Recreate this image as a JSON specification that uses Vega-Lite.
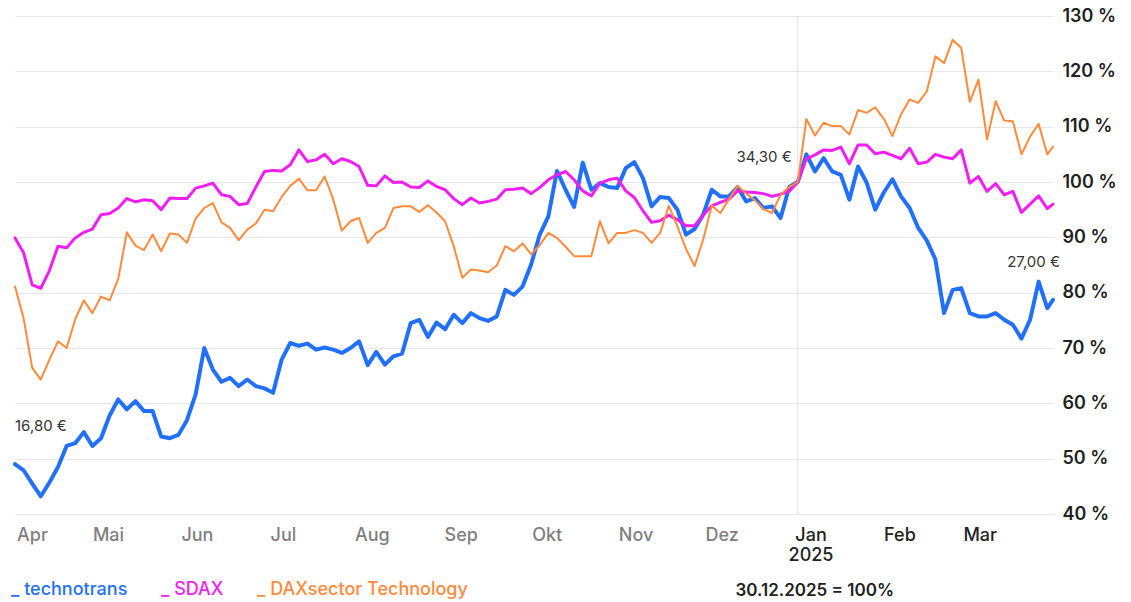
{
  "$schema": "https://vega.github.io/schema/vega-lite/v6.json",
  "width": 1038,
  "height": 498,
  "autosize": {"type": "none"},
  "padding": {"left": 15, "top": 16, "right": 78, "bottom": 88},
  "background": "white",
  "config": {"font": "Inter", "view": {"stroke": null}},
  "encoding": {
    "x": {
      "field": "date",
      "type": "temporal",
      "scale": {"type": "utc", "domain": [{"year": 2024, "month": 4, "date": 1, "utc": true}, {"year": 2025, "month": 3, "date": 29, "utc": true}]},
      "axis": {
        "title": "30.12.2025 = 100%",
        "titleX": 720,
        "titleY": 76,
        "titleAlign": "left",
        "titleBaseline": "middle",
        "titleFontSize": 17,
        "titleFontWeight": 600,
        "titleColor": "#222222",
        "tickCount": {"interval": "month", "step": 1},
        "labelExpr": "utcmonth(datum.value) == 0 ? ['Jan', '' + utcyear(datum.value)] : ['Jan','Feb','Mar','Apr','Mai','Jun','Jul','Aug','Sep','Okt','Nov','Dez'][utcmonth(datum.value)]",
        "labelFontSize": 18,
        "labelFontWeight": 500,
        "labelPadding": 12,
        "labelLineHeight": 20,
        "labelColor": {"condition": {"test": "utcyear(datum.value) >= 2025", "value": "#222222"}, "value": "#808080"},
        "labelOffset": {"condition": {"test": "utcyear(datum.value) == 2024 && utcmonth(datum.value) == 3", "value": 17}, "value": 7},
        "labelAlign": "center",
        "labelBaseline": "top",
        "labelOverlap": false,
        "labelFlush": false,
        "domain": false,
        "ticks": false,
        "grid": false
      }
    }
  },
  "layer": [
    {
      "data": {"values": [{"date": "2024-12-30"}]},
      "mark": {"type": "rule", "color": "#e2e2e2", "strokeWidth": 1},
      "encoding": {}
    },
    {
      "data": {"values": [
        {"date": "2024-04-01", "technotrans": 49.0, "SDAX": 89.9, "DAXsector Technology": 81.1},
        {"date": "2024-04-04", "technotrans": 47.9, "SDAX": 87.2, "DAXsector Technology": 75.4},
        {"date": "2024-04-07", "technotrans": 45.5, "SDAX": 81.4, "DAXsector Technology": 66.4},
        {"date": "2024-04-10", "technotrans": 43.2, "SDAX": 80.8, "DAXsector Technology": 64.3},
        {"date": "2024-04-13", "technotrans": 45.7, "SDAX": 84.0, "DAXsector Technology": 67.9},
        {"date": "2024-04-16", "technotrans": 48.5, "SDAX": 88.4, "DAXsector Technology": 71.2},
        {"date": "2024-04-19", "technotrans": 52.3, "SDAX": 88.1, "DAXsector Technology": 70.0},
        {"date": "2024-04-22", "technotrans": 52.8, "SDAX": 89.9, "DAXsector Technology": 75.2},
        {"date": "2024-04-25", "technotrans": 54.8, "SDAX": 90.9, "DAXsector Technology": 78.6},
        {"date": "2024-04-28", "technotrans": 52.3, "SDAX": 91.5, "DAXsector Technology": 76.3},
        {"date": "2024-05-01", "technotrans": 53.7, "SDAX": 94.1, "DAXsector Technology": 79.3},
        {"date": "2024-05-04", "technotrans": 57.8, "SDAX": 94.3, "DAXsector Technology": 78.6},
        {"date": "2024-05-07", "technotrans": 60.7, "SDAX": 95.3, "DAXsector Technology": 82.5},
        {"date": "2024-05-10", "technotrans": 58.9, "SDAX": 97.0, "DAXsector Technology": 90.9},
        {"date": "2024-05-13", "technotrans": 60.4, "SDAX": 96.4, "DAXsector Technology": 88.5},
        {"date": "2024-05-16", "technotrans": 58.6, "SDAX": 96.8, "DAXsector Technology": 87.7},
        {"date": "2024-05-19", "technotrans": 58.6, "SDAX": 96.6, "DAXsector Technology": 90.5},
        {"date": "2024-05-22", "technotrans": 54.0, "SDAX": 95.0, "DAXsector Technology": 87.5},
        {"date": "2024-05-25", "technotrans": 53.7, "SDAX": 97.1, "DAXsector Technology": 90.7},
        {"date": "2024-05-28", "technotrans": 54.3, "SDAX": 97.0, "DAXsector Technology": 90.5},
        {"date": "2024-05-31", "technotrans": 57.0, "SDAX": 97.0, "DAXsector Technology": 89.0},
        {"date": "2024-06-03", "technotrans": 61.6, "SDAX": 98.9, "DAXsector Technology": 93.4},
        {"date": "2024-06-06", "technotrans": 70.0, "SDAX": 99.3, "DAXsector Technology": 95.3},
        {"date": "2024-06-09", "technotrans": 66.1, "SDAX": 99.8, "DAXsector Technology": 96.2},
        {"date": "2024-06-12", "technotrans": 63.9, "SDAX": 97.7, "DAXsector Technology": 92.7},
        {"date": "2024-06-15", "technotrans": 64.6, "SDAX": 97.4, "DAXsector Technology": 91.7},
        {"date": "2024-06-18", "technotrans": 63.1, "SDAX": 95.9, "DAXsector Technology": 89.5},
        {"date": "2024-06-21", "technotrans": 64.3, "SDAX": 96.1, "DAXsector Technology": 91.4},
        {"date": "2024-06-24", "technotrans": 63.1, "SDAX": 99.1, "DAXsector Technology": 92.5},
        {"date": "2024-06-27", "technotrans": 62.7, "SDAX": 101.9, "DAXsector Technology": 95.0},
        {"date": "2024-06-30", "technotrans": 61.9, "SDAX": 102.1, "DAXsector Technology": 94.7},
        {"date": "2024-07-03", "technotrans": 67.9, "SDAX": 102.0, "DAXsector Technology": 97.3},
        {"date": "2024-07-06", "technotrans": 70.9, "SDAX": 103.1, "DAXsector Technology": 99.3},
        {"date": "2024-07-09", "technotrans": 70.4, "SDAX": 105.8, "DAXsector Technology": 100.6},
        {"date": "2024-07-12", "technotrans": 70.8, "SDAX": 103.7, "DAXsector Technology": 98.5},
        {"date": "2024-07-15", "technotrans": 69.7, "SDAX": 104.0, "DAXsector Technology": 98.5},
        {"date": "2024-07-18", "technotrans": 70.1, "SDAX": 105.0, "DAXsector Technology": 101.0},
        {"date": "2024-07-21", "technotrans": 69.7, "SDAX": 103.3, "DAXsector Technology": 96.8},
        {"date": "2024-07-24", "technotrans": 69.1, "SDAX": 104.2, "DAXsector Technology": 91.2},
        {"date": "2024-07-27", "technotrans": 70.0, "SDAX": 103.7, "DAXsector Technology": 92.9},
        {"date": "2024-07-30", "technotrans": 71.2, "SDAX": 102.8, "DAXsector Technology": 93.5},
        {"date": "2024-08-02", "technotrans": 66.9, "SDAX": 99.4, "DAXsector Technology": 89.0},
        {"date": "2024-08-05", "technotrans": 69.3, "SDAX": 99.3, "DAXsector Technology": 90.8},
        {"date": "2024-08-08", "technotrans": 67.0, "SDAX": 101.1, "DAXsector Technology": 91.7},
        {"date": "2024-08-11", "technotrans": 68.5, "SDAX": 99.9, "DAXsector Technology": 95.3},
        {"date": "2024-08-14", "technotrans": 69.0, "SDAX": 100.0, "DAXsector Technology": 95.6},
        {"date": "2024-08-17", "technotrans": 74.5, "SDAX": 99.1, "DAXsector Technology": 95.6},
        {"date": "2024-08-20", "technotrans": 75.1, "SDAX": 99.0, "DAXsector Technology": 94.6},
        {"date": "2024-08-23", "technotrans": 72.0, "SDAX": 100.2, "DAXsector Technology": 95.8},
        {"date": "2024-08-26", "technotrans": 74.6, "SDAX": 99.2, "DAXsector Technology": 94.5},
        {"date": "2024-08-29", "technotrans": 73.4, "SDAX": 98.6, "DAXsector Technology": 92.9},
        {"date": "2024-09-01", "technotrans": 76.0, "SDAX": 97.0, "DAXsector Technology": 88.4},
        {"date": "2024-09-04", "technotrans": 74.5, "SDAX": 95.9, "DAXsector Technology": 82.7},
        {"date": "2024-09-07", "technotrans": 76.3, "SDAX": 97.1, "DAXsector Technology": 84.2},
        {"date": "2024-09-10", "technotrans": 75.4, "SDAX": 96.2, "DAXsector Technology": 84.0},
        {"date": "2024-09-13", "technotrans": 74.9, "SDAX": 96.5, "DAXsector Technology": 83.7},
        {"date": "2024-09-16", "technotrans": 75.7, "SDAX": 96.9, "DAXsector Technology": 84.9},
        {"date": "2024-09-19", "technotrans": 80.5, "SDAX": 98.6, "DAXsector Technology": 88.4},
        {"date": "2024-09-22", "technotrans": 79.6, "SDAX": 98.7, "DAXsector Technology": 87.5},
        {"date": "2024-09-25", "technotrans": 81.1, "SDAX": 98.9, "DAXsector Technology": 88.9},
        {"date": "2024-09-28", "technotrans": 85.1, "SDAX": 97.9, "DAXsector Technology": 86.9},
        {"date": "2024-10-01", "technotrans": 90.5, "SDAX": 99.0, "DAXsector Technology": 88.6},
        {"date": "2024-10-04", "technotrans": 93.8, "SDAX": 100.4, "DAXsector Technology": 90.8},
        {"date": "2024-10-07", "technotrans": 102.0, "SDAX": 101.3, "DAXsector Technology": 89.9},
        {"date": "2024-10-10", "technotrans": 98.6, "SDAX": 101.9, "DAXsector Technology": 88.3},
        {"date": "2024-10-13", "technotrans": 95.5, "SDAX": 100.4, "DAXsector Technology": 86.6},
        {"date": "2024-10-16", "technotrans": 103.5, "SDAX": 98.4, "DAXsector Technology": 86.6},
        {"date": "2024-10-19", "technotrans": 98.6, "SDAX": 97.5, "DAXsector Technology": 86.6},
        {"date": "2024-10-22", "technotrans": 99.8, "SDAX": 99.8, "DAXsector Technology": 92.9},
        {"date": "2024-10-25", "technotrans": 99.1, "SDAX": 100.4, "DAXsector Technology": 88.9},
        {"date": "2024-10-28", "technotrans": 98.9, "SDAX": 100.7, "DAXsector Technology": 90.8},
        {"date": "2024-10-31", "technotrans": 102.5, "SDAX": 98.4, "DAXsector Technology": 90.8},
        {"date": "2024-11-03", "technotrans": 103.6, "SDAX": 97.2, "DAXsector Technology": 91.3},
        {"date": "2024-11-06", "technotrans": 100.7, "SDAX": 94.8, "DAXsector Technology": 90.8},
        {"date": "2024-11-09", "technotrans": 95.6, "SDAX": 92.7, "DAXsector Technology": 89.0},
        {"date": "2024-11-12", "technotrans": 97.3, "SDAX": 93.0, "DAXsector Technology": 90.8},
        {"date": "2024-11-15", "technotrans": 97.1, "SDAX": 94.0, "DAXsector Technology": 95.7},
        {"date": "2024-11-18", "technotrans": 95.0, "SDAX": 93.2, "DAXsector Technology": 92.0},
        {"date": "2024-11-21", "technotrans": 90.5, "SDAX": 92.1, "DAXsector Technology": 87.9},
        {"date": "2024-11-24", "technotrans": 91.5, "SDAX": 92.1, "DAXsector Technology": 84.8},
        {"date": "2024-11-27", "technotrans": 94.1, "SDAX": 94.0, "DAXsector Technology": 89.6},
        {"date": "2024-11-30", "technotrans": 98.6, "SDAX": 95.7, "DAXsector Technology": 95.7},
        {"date": "2024-12-03", "technotrans": 97.4, "SDAX": 96.3, "DAXsector Technology": 94.4},
        {"date": "2024-12-06", "technotrans": 97.4, "SDAX": 96.9, "DAXsector Technology": 96.9},
        {"date": "2024-12-09", "technotrans": 99.1, "SDAX": 98.4, "DAXsector Technology": 99.3},
        {"date": "2024-12-12", "technotrans": 96.5, "SDAX": 98.2, "DAXsector Technology": 97.9},
        {"date": "2024-12-15", "technotrans": 97.1, "SDAX": 98.1, "DAXsector Technology": 96.7},
        {"date": "2024-12-18", "technotrans": 95.3, "SDAX": 97.9, "DAXsector Technology": 95.1},
        {"date": "2024-12-21", "technotrans": 95.6, "SDAX": 97.4, "DAXsector Technology": 94.4},
        {"date": "2024-12-24", "technotrans": 93.5, "SDAX": 97.8, "DAXsector Technology": 97.7},
        {"date": "2024-12-27", "technotrans": 99.1, "SDAX": 98.3, "DAXsector Technology": 99.1},
        {"date": "2024-12-30", "technotrans": 100.0, "SDAX": 100.0, "DAXsector Technology": 100.0},
        {"date": "2025-01-02", "technotrans": 105.0, "SDAX": 104.2, "DAXsector Technology": 111.4},
        {"date": "2025-01-05", "technotrans": 101.9, "SDAX": 104.9, "DAXsector Technology": 108.4},
        {"date": "2025-01-08", "technotrans": 104.3, "SDAX": 105.8, "DAXsector Technology": 110.7},
        {"date": "2025-01-11", "technotrans": 101.9, "SDAX": 105.7, "DAXsector Technology": 110.1},
        {"date": "2025-01-14", "technotrans": 101.3, "SDAX": 106.3, "DAXsector Technology": 110.1},
        {"date": "2025-01-17", "technotrans": 96.8, "SDAX": 103.3, "DAXsector Technology": 108.6},
        {"date": "2025-01-20", "technotrans": 102.8, "SDAX": 106.7, "DAXsector Technology": 113.0},
        {"date": "2025-01-23", "technotrans": 99.9, "SDAX": 106.7, "DAXsector Technology": 112.5},
        {"date": "2025-01-26", "technotrans": 95.0, "SDAX": 105.1, "DAXsector Technology": 113.5},
        {"date": "2025-01-29", "technotrans": 98.1, "SDAX": 105.4, "DAXsector Technology": 111.4},
        {"date": "2025-02-01", "technotrans": 100.5, "SDAX": 104.8, "DAXsector Technology": 108.3},
        {"date": "2025-02-04", "technotrans": 97.4, "SDAX": 104.2, "DAXsector Technology": 112.2},
        {"date": "2025-02-07", "technotrans": 95.3, "SDAX": 106.1, "DAXsector Technology": 114.9},
        {"date": "2025-02-10", "technotrans": 91.7, "SDAX": 103.3, "DAXsector Technology": 114.3},
        {"date": "2025-02-13", "technotrans": 89.4, "SDAX": 103.6, "DAXsector Technology": 116.4},
        {"date": "2025-02-16", "technotrans": 86.0, "SDAX": 105.0, "DAXsector Technology": 122.7},
        {"date": "2025-02-19", "technotrans": 76.3, "SDAX": 104.5, "DAXsector Technology": 121.5},
        {"date": "2025-02-22", "technotrans": 80.5, "SDAX": 104.2, "DAXsector Technology": 125.7},
        {"date": "2025-02-25", "technotrans": 80.8, "SDAX": 105.8, "DAXsector Technology": 124.2},
        {"date": "2025-02-28", "technotrans": 76.3, "SDAX": 99.8, "DAXsector Technology": 114.5},
        {"date": "2025-03-03", "technotrans": 75.7, "SDAX": 101.0, "DAXsector Technology": 118.5},
        {"date": "2025-03-06", "technotrans": 75.7, "SDAX": 98.3, "DAXsector Technology": 107.7},
        {"date": "2025-03-09", "technotrans": 76.3, "SDAX": 99.7, "DAXsector Technology": 114.6},
        {"date": "2025-03-12", "technotrans": 75.1, "SDAX": 97.7, "DAXsector Technology": 111.1},
        {"date": "2025-03-15", "technotrans": 74.2, "SDAX": 98.3, "DAXsector Technology": 111.0},
        {"date": "2025-03-18", "technotrans": 71.7, "SDAX": 94.5, "DAXsector Technology": 105.0},
        {"date": "2025-03-21", "technotrans": 75.1, "SDAX": 96.0, "DAXsector Technology": 108.2},
        {"date": "2025-03-24", "technotrans": 82.0, "SDAX": 97.5, "DAXsector Technology": 110.5},
        {"date": "2025-03-27", "technotrans": 77.2, "SDAX": 95.2, "DAXsector Technology": 105.0},
        {"date": "2025-03-29", "technotrans": 78.7, "SDAX": 96.0, "DAXsector Technology": 106.4}
      ]},
      "transform": [{"fold": ["technotrans", "SDAX", "DAXsector Technology"], "as": ["series", "value"]}],
      "mark": {"type": "line", "strokeJoin": "round", "strokeCap": "round"},
      "encoding": {
        "y": {
          "field": "value",
          "type": "quantitative",
          "scale": {"domain": [40, 130], "nice": false, "zero": false},
          "axis": {
            "orient": "right",
            "title": null,
            "values": [40, 50, 60, 70, 80, 90, 100, 110, 120, 130],
            "labelExpr": "datum.value + ' %'",
            "labelFontSize": 18,
            "labelFontWeight": 600,
            "labelColor": "#222222",
            "labelPadding": 9,
            "labelAlign": "left",
            "labelBaseline": "middle",
            "domain": false,
            "ticks": false,
            "grid": true,
            "gridColor": "#e6e6e6",
            "gridWidth": 1
          }
        },
        "color": {
          "field": "series",
          "type": "nominal",
          "scale": {"domain": ["technotrans", "SDAX", "DAXsector Technology"], "range": ["#2270f7", "#f01ef0", "#ff8a3c"]},
          "legend": {
            "orient": "none",
            "legendX": -22,
            "legendY": 565,
            "direction": "horizontal",
            "title": null,
            "symbolSize": 0,
            "symbolStrokeWidth": 0,
            "symbolOpacity": 0,
            "labelFontSize": 18,
            "labelFontWeight": 500,
            "labelExpr": "'_ ' + datum.label",
            "columnPadding": 15,
            "labelOffset": 0,
            "padding": 0,
            "labelLimit": 400,
            "encode": {"labels": {"update": {"fill": {"scale": "color", "field": "value"}}}}
          }
        },
        "strokeWidth": {
          "field": "series",
          "type": "nominal",
          "scale": {"domain": ["technotrans", "SDAX", "DAXsector Technology"], "range": [4, 2, 2]},
          "legend": null
        }
      }
    },
    {
      "data": {"values": [{"date": "2024-04-01", "value": 48.98, "label": "16,80 €"}]},
      "mark": {"type": "text", "align": "left", "baseline": "middle", "dx": 0, "dy": -38, "fontSize": 15, "color": "#333333"},
      "encoding": {"y": {"field": "value", "type": "quantitative"}, "text": {"field": "label"}}
    },
    {
      "data": {"values": [{"date": "2024-12-30", "value": 100, "label": "34,30 €"}]},
      "mark": {"type": "text", "align": "right", "baseline": "middle", "dx": -6, "dy": -25, "fontSize": 15, "color": "#333333"},
      "encoding": {"y": {"field": "value", "type": "quantitative"}, "text": {"field": "label"}}
    },
    {
      "data": {"values": [{"date": "2025-03-29", "value": 78.7, "label": "27,00 €"}]},
      "mark": {"type": "text", "align": "right", "baseline": "middle", "dx": 7, "dy": -38, "fontSize": 15, "color": "#333333"},
      "encoding": {"y": {"field": "value", "type": "quantitative"}, "text": {"field": "label"}}
    }
  ]
}
